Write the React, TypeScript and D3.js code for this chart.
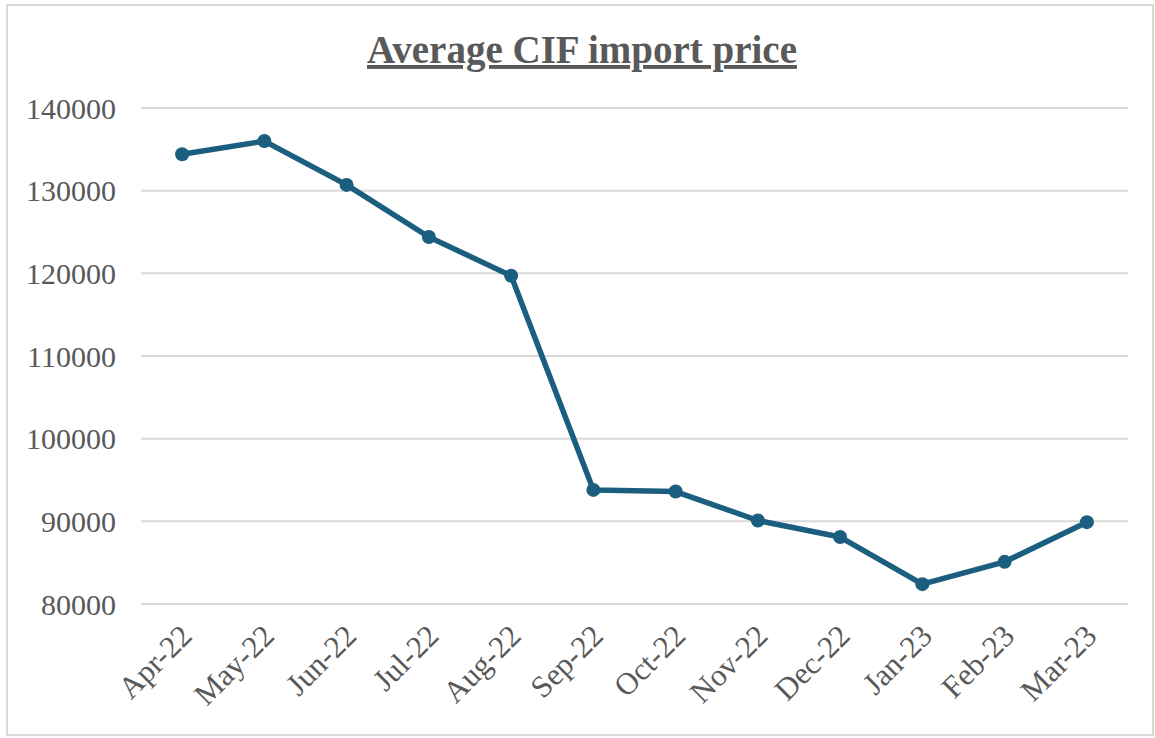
import { useEffect, useRef } from "react";
import * as d3 from "d3";

const months = [
  "Apr-22", "May-22", "Jun-22", "Jul-22", "Aug-22", "Sep-22",
  "Oct-22", "Nov-22", "Dec-22", "Jan-23", "Feb-23", "Mar-23",
];
const prices = [
  134400, 136000, 130700, 124400, 119700, 93800,
  93600, 90100, 88100, 82400, 85100, 89900,
];
const yTicks = [80000, 90000, 100000, 110000, 120000, 130000, 140000];

const W = 1155;
const H = 738;
const m = { left: 141, right: 27, top: 108, bottom: 134 };

export default function App() {
  const ref = useRef<SVGSVGElement>(null);

  useEffect(() => {
    const svg = d3.select(ref.current);
    svg.selectAll("*").remove();

    const width = W - m.left - m.right;
    const height = H - m.top - m.bottom;

    const x = d3.scaleBand().domain(months).range([0, width]);
    const y = d3.scaleLinear().domain([80000, 140000]).range([height, 0]);

    // frame
    svg
      .append("rect")
      .attr("x", 7)
      .attr("y", 5)
      .attr("width", 1146)
      .attr("height", 730)
      .attr("fill", "white")
      .attr("stroke", "#d9d9d9")
      .attr("stroke-width", 2);

    svg
      .append("text")
      .attr("x", 582)
      .attr("y", 63)
      .attr("text-anchor", "middle")
      .attr("font-family", "'Liberation Serif', serif")
      .attr("font-weight", "bold")
      .attr("font-size", 39)
      .attr("fill", "#595959")
      .attr("text-decoration", "underline")
      .text("Average CIF import price");

    const g = svg
      .append("g")
      .attr("transform", "translate(" + m.left + ", " + m.top + ")");

    g.append("g")
      .selectAll("line")
      .data(yTicks)
      .join("line")
      .attr("x1", 0)
      .attr("x2", width)
      .attr("y1", (d) => y(d))
      .attr("y2", (d) => y(d))
      .attr("stroke", "#d9d9d9")
      .attr("stroke-width", 2);

    g.append("g")
      .selectAll("text")
      .data(yTicks)
      .join("text")
      .attr("x", -25)
      .attr("y", (d) => y(d))
      .attr("dy", "0.35em")
      .attr("text-anchor", "end")
      .attr("font-family", "'Liberation Serif', serif")
      .attr("font-size", 30)
      .attr("fill", "#595959")
      .text((d) => String(d));

    g.append("g")
      .selectAll("text")
      .data(months)
      .join("text")
      .attr(
        "transform",
        (d) =>
          "translate(" + (x(d)! + x.bandwidth() / 2 + 4) + ", " + (height + 26) + ") rotate(-45)"
      )
      .attr("text-anchor", "end")
      .attr("dy", "0.35em")
      .attr("font-family", "'Liberation Serif', serif")
      .attr("font-size", 31)
      .attr("fill", "#595959")
      .text((d) => d);

    const line = d3
      .line<number>()
      .x((_, i) => x(months[i])! + x.bandwidth() / 2)
      .y((d) => y(d));

    g.append("path")
      .datum(prices)
      .attr("d", line)
      .attr("fill", "none")
      .attr("stroke", "#1b5e7f")
      .attr("stroke-width", 5.5)
      .attr("stroke-linejoin", "round");

    g.append("g")
      .selectAll("circle")
      .data(prices)
      .join("circle")
      .attr("cx", (_, i) => x(months[i])! + x.bandwidth() / 2)
      .attr("cy", (d) => y(d))
      .attr("r", 7)
      .attr("fill", "#1b5e7f");
  }, []);

  return (
    <svg
      ref={ref}
      width={W}
      height={H}
      style={{ position: "absolute", left: 0, top: 0 }}
    />
  );
}
